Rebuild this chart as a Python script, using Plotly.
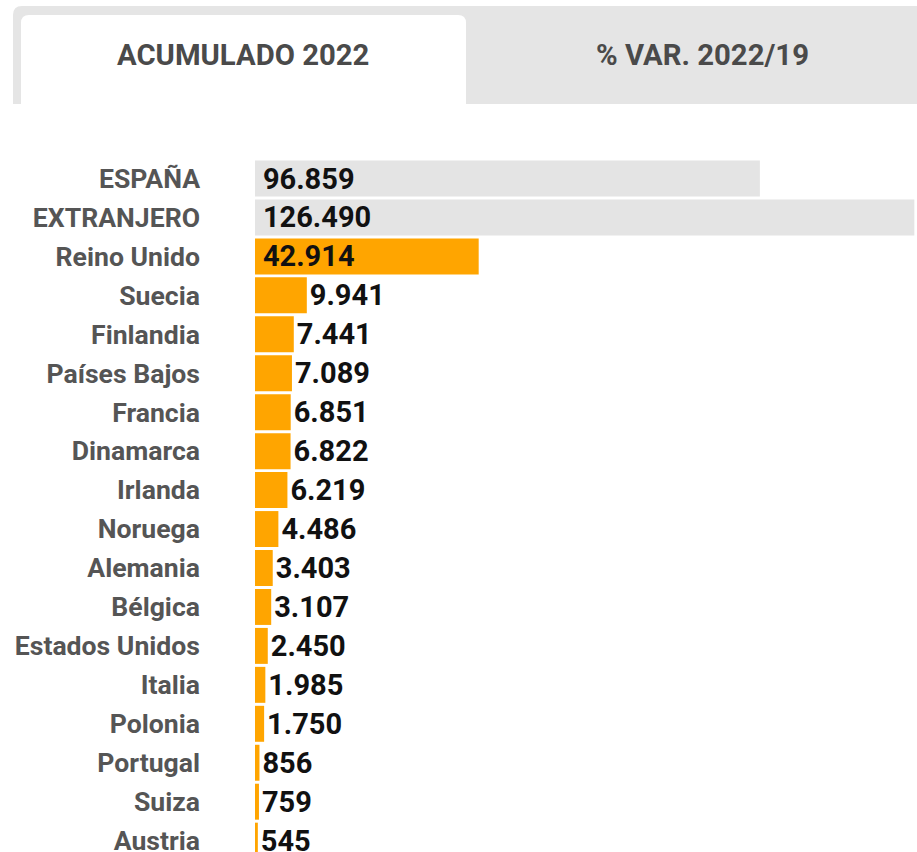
import plotly.graph_objects as go

categories = ["ESPAÑA", "EXTRANJERO", "Reino Unido", "Suecia", "Finlandia", "Países Bajos",
              "Francia", "Dinamarca", "Irlanda", "Noruega", "Alemania", "Bélgica",
              "Estados Unidos", "Italia", "Polonia", "Portugal", "Suiza", "Austria"]
values = [96859, 126490, 42914, 9941, 7441, 7089, 6851, 6822, 6219, 4486, 3403, 3107,
          2450, 1985, 1750, 856, 759, 545]
value_labels = ["96.859", "126.490", "42.914", "9.941", "7.441", "7.089", "6.851", "6.822",
                "6.219", "4.486", "3.403", "3.107", "2.450", "1.985", "1.750", "856", "759", "545"]
tab_titles = ["ACUMULADO 2022", "% VAR. 2022/19"]

W, H = 917, 852
L, R, T, B = 255, 0, 130, 0
PW, PH = W - L - R, H - T - B
ROW0, ROWSTEP = 178.5, 38.95

def px(x):
    return (x - L) / PW

def py(y):
    return (H - B - y) / PH

colors = ["#e4e4e4", "#e4e4e4"] + ["#FFA500"] * (len(values) - 2)
positions = ["inside", "inside", "inside"] + ["outside"] * (len(values) - 3)
shown_text = [("\u2006" if p == "inside" else "") + t for p, t in zip(positions, value_labels)]
idx = list(range(len(categories)))

VAL_FONT = dict(family="Roboto", size=29, color="#111111", weight="bold")

fig = go.Figure(go.Bar(
    y=idx, x=values, orientation="h",
    marker=dict(color=colors, line=dict(width=0)),
    text=shown_text, textposition=positions,
    insidetextanchor="start",
    textfont=VAL_FONT, insidetextfont=VAL_FONT, outsidetextfont=VAL_FONT,
    cliponaxis=False, constraintext="none",
    hoverinfo="skip",
))

top_i = (T - ROW0) / ROWSTEP
bot_i = (H - B - ROW0) / ROWSTEP

def tab_path(x0, y0, x1, y1, r):
    return (f"M {px(x0)} {py(y1)} L {px(x0)} {py(y0 + r)} "
            f"Q {px(x0)} {py(y0)} {px(x0 + r)} {py(y0)} "
            f"L {px(x1 - r)} {py(y0)} Q {px(x1)} {py(y0)} {px(x1)} {py(y0 + r)} "
            f"L {px(x1)} {py(y1)} Z")

shapes = [
    dict(type="path", xref="paper", yref="paper", path=tab_path(13, 6, 925, 104, 9),
         fillcolor="#e5e5e5", line=dict(width=0), layer="below"),
    dict(type="path", xref="paper", yref="paper", path=tab_path(21, 15, 466, 104, 8),
         fillcolor="#ffffff", line=dict(width=0), layer="below"),
]

TAB_FONT = dict(family="Roboto", size=29.3, color="#4a4a4a", weight="bold")
annotations = [
    dict(x=px(243), y=py(55), xref="paper", yref="paper", text=tab_titles[0], showarrow=False,
         font=TAB_FONT, xanchor="center", yanchor="middle"),
    dict(x=px(702), y=py(55), xref="paper", yref="paper", text=tab_titles[1], showarrow=False,
         font=TAB_FONT, xanchor="center", yanchor="middle"),
]

fig.update_layout(
    width=W, height=H,
    margin=dict(l=L, r=R, t=T, b=B, pad=0, autoexpand=False),
    paper_bgcolor="white", plot_bgcolor="white",
    bargap=0.077,
    showlegend=False,
    shapes=shapes,
    annotations=annotations,
    uniformtext=dict(mode=False),
    xaxis=dict(range=[0, 127000], visible=False, fixedrange=True, automargin=False),
    yaxis=dict(
        range=[bot_i, top_i],
        tickmode="array", tickvals=idx, ticktext=categories,
        tickfont=dict(family="Roboto", size=26.6, color="#555555", weight="bold"),
        showgrid=False, zeroline=False, showline=False, ticks="",
        ticklabelstandoff=54,
        ticklabeloverflow="allow",
        automargin=False,
        fixedrange=True,
    ),
)

fig.write_html(
    "out.html",
    config={"displayModeBar": False},
    post_script="document.body.style.margin='0';document.body.style.overflow='hidden';",
)
